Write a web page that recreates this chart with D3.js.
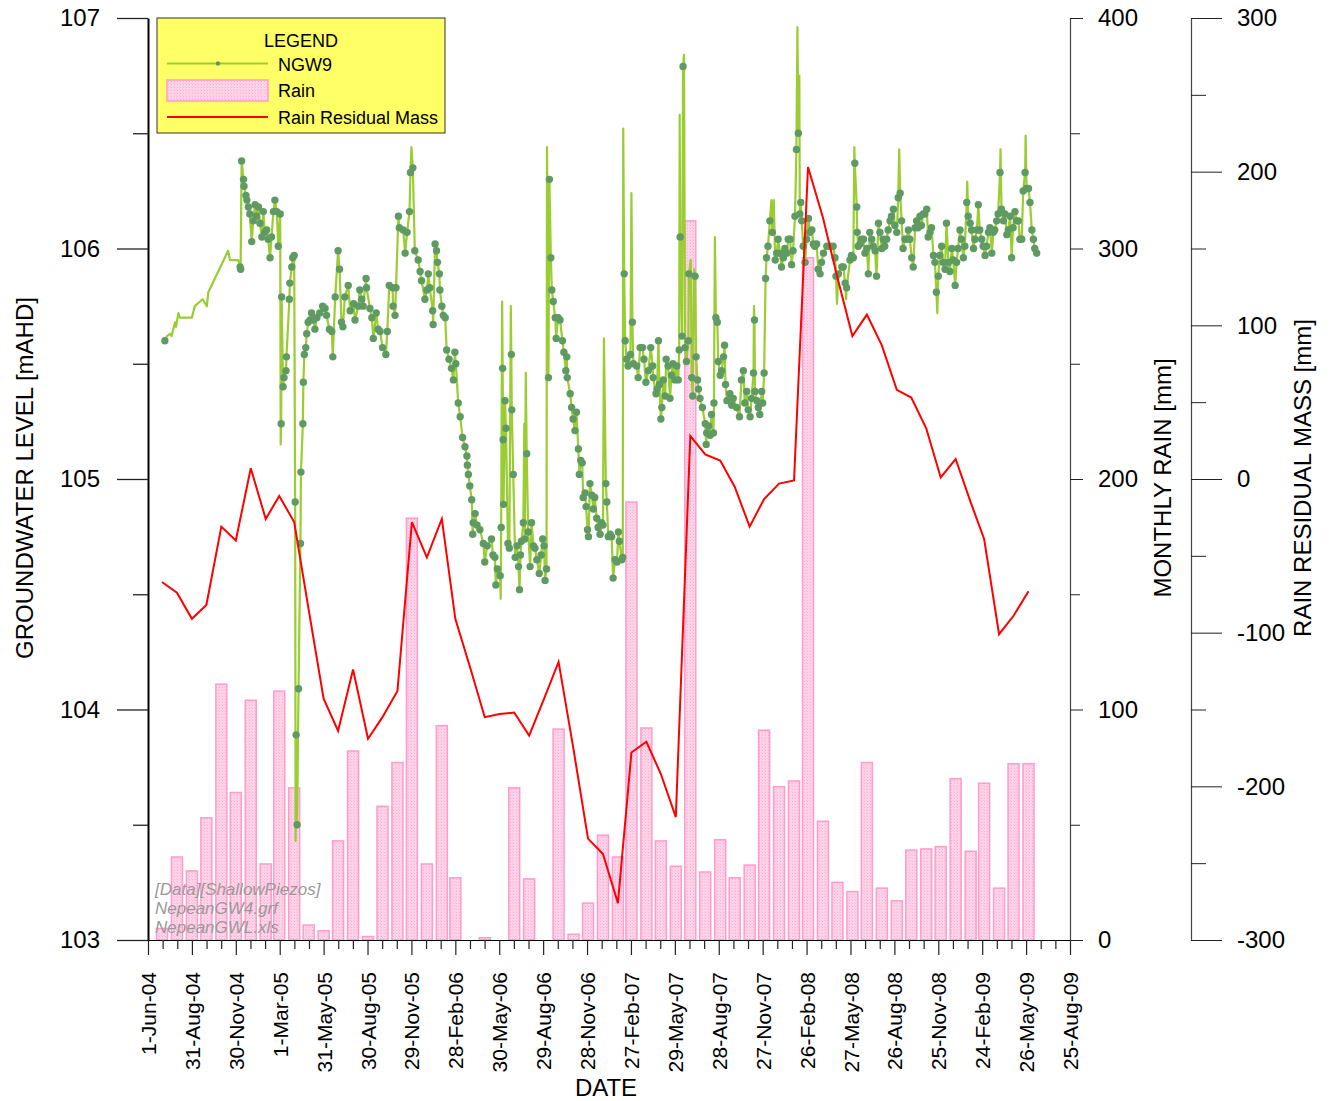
<!DOCTYPE html>
<html>
<head>
<meta charset="utf-8">
<script src="https://cdn.jsdelivr.net/npm/d3@7"></script>
<style>
  body { margin: 0; background: #fff; }
  svg { display: block; font-family: Arial, "Liberation Sans", sans-serif; }
</style>
</head>
<body>
<svg id="chart" width="1331" height="1101"></svg>
<script>
// ---- data ----
var xTickLabels = ["1-Jun-04", "31-Aug-04", "30-Nov-04", "1-Mar-05", "31-May-05", "30-Aug-05",
  "29-Nov-05", "28-Feb-06", "30-May-06", "29-Aug-06", "28-Nov-06", "27-Feb-07", "29-May-07",
  "28-Aug-07", "27-Nov-07", "26-Feb-08", "27-May-08", "26-Aug-08", "25-Nov-08", "24-Feb-09",
  "26-May-09", "25-Aug-09"];
var levelTicks = [103, 104, 105, 106, 107];
var rainTicks = [0, 100, 200, 300, 400];
var residualTicks = [-300, -200, -100, 0, 100, 200, 300];

// monthly rain [mm], Jun-2004 .. May-2009
var rainMm = [5, 36, 30, 53, 111, 64, 104, 33, 108, 66, 6.5, 4,
  43, 82, 1.5, 58, 77, 183, 33, 93, 27, 0, 1, 0,
  66, 26.5, 0, 91.5, 2.5, 16, 45.5, 36, 190, 92, 43, 32,
  312, 29.5, 43.5, 27, 32.5, 91, 66.5, 69, 296, 51.5, 25, 21,
  77, 22.5, 17, 39, 39.5, 40.5, 70, 38.5, 68, 22.5, 76.5, 76.5];

// rain residual mass [mm], same months
var residualMm = [-67, -74, -91, -82, -31, -40, 7, -26, -11, -28, -85, -143,
  -164, -124, -169, -155, -138, -28, -51, -26, -91, -123, -155, -153,
  -152, -167, -143, -119, -176, -234, -244, -276, -178, -171, -192, -220,
  28, 16, 12, -5, -31, -13, -3, -1, 203, 170, 131, 93,
  107, 87, 58, 53, 33, 1, 13, -15, -39, -101, -89, -73];

// NGW9 readings shown with a marker: [days since 1-Jun-04, level mAHD]
var ngw9 = [[35,105.60],[191,105.92],[192,105.91],[194,106.38],[198,106.30],[199,106.27],[203,106.23],[205,106.21],
  [208,106.18],[211,106.15],[215,106.03],[218,106.12],[222,106.19],[225,106.14],[229,106.18],[232,106.11],[236,106.05],
  [239,106.16],[242,106.07],[246,106.08],[249,106.04],[253,105.96],[256,106.05],[260,106.16],[263,106.21],[267,106.16],
  [270,106.01],[274,106.15],[276,105.24],[277,105.79],[280,105.40],[282,105.44],[286,105.47],[287,105.53],[293,105.78],
  [294,105.85],[298,105.92],[300,105.96],[303,105.97],[305,104.90],[307,103.89],[309,103.50],[312,104.09],[316,104.72],
  [317,105.03],[321,105.24],[322,105.42],[324,105.54],[327,105.57],[329,105.63],[332,105.68],[336,105.69],[339,105.72],
  [343,105.69],[346,105.65],[350,105.70],[356,105.72],[362,105.75],[367,105.74],[370,105.71],[376,105.65],[381,105.64],
  [383,105.53],[388,105.79],[394,105.99],[397,105.91],[401,105.68],[404,105.66],[408,105.79],[415,105.84],[419,105.73],
  [426,105.76],[429,105.69],[436,105.75],[439,105.82],[443,105.78],[446,105.75],[452,105.87],[453,105.83],[460,105.74],
  [464,105.70],[467,105.61],[473,105.72],[477,105.65],[481,105.64],[486,105.57],[493,105.54],[496,105.64],[500,105.84],
  [507,105.83],[508,105.75],[512,105.71],[514,105.83],[519,106.14],[521,106.09],[529,106.08],[533,105.98],[537,106.07],
  [542,106.16],[544,106.33],[549,106.35],[553,105.99],[560,105.95],[564,105.90],[567,105.86],[574,105.78],[578,105.82],
  [581,105.89],[584,105.83],[590,105.73],[591,105.67],[595,106.02],[598,105.99],[600,105.94],[604,105.89],[605,105.82],
  [609,105.75],[612,105.71],[616,105.70],[619,105.56],[624,105.52],[629,105.48],[633,105.43],[636,105.55],[638,105.50],
  [643,105.33],[647,105.27],[652,105.18],[657,105.14],[661,105.10],[662,105.06],[664,105.02],[667,104.97],[671,104.91],
  [673,104.76],[674,104.81],[678,104.85],[682,104.80],[688,104.78],[695,104.72],[698,104.64],[703,104.71],[712,104.74],
  [715,104.67],[719,104.66],[721,104.54],[724,104.61],[730,104.58],[732,104.79],[735,105.48],[736,105.17],[737,104.89],
  [740,105.34],[742,105.22],[746,104.72],[749,104.70],[753,105.54],[754,105.30],[757,105.02],[761,104.66],[765,104.71],
  [768,104.62],[770,104.52],[772,104.67],[774,104.73],[778,104.81],[781,104.74],[785,105.11],[788,104.77],[792,104.62],
  [795,104.81],[799,104.71],[802,104.70],[806,104.65],[811,104.59],[815,104.67],[818,104.74],[821,104.71],[823,104.56],
  [826,104.61],[830,105.44],[832,106.30],[835,105.96],[837,105.82],[840,105.77],[844,105.70],[846,105.61],[850,105.70],
  [854,105.69],[859,105.60],[862,105.55],[866,105.47],[868,105.53],[869,105.44],[875,105.37],[878,105.31],[881,105.26],
  [885,105.21],[888,105.29],[892,105.13],[894,105.02],[897,105.08],[900,105.07],[902,104.92],[906,104.94],[908,104.88],
  [911,104.78],[913,104.75],[916,104.98],[920,104.93],[923,104.87],[926,104.92],[930,104.83],[933,104.79],[937,104.76],
  [940,104.81],[943,104.80],[949,104.98],[951,104.90],[954,104.75],[958,104.76],[961,104.75],[964,104.57],[968,104.65],
  [972,104.64],[975,104.77],[977,104.73],[982,104.65],[984,104.66],[987,105.89],[989,105.60],[992,105.52],[995,105.49],
  [1000,105.54],[1004,105.68],[1006,105.50],[1013,105.49],[1016,105.44],[1020,105.57],[1025,105.57],[1028,105.52],
  [1032,105.42],[1037,105.47],[1042,105.57],[1046,105.49],[1047,105.44],[1053,105.37],[1055,105.39],[1058,105.60],
  [1060,105.41],[1063,105.26],[1065,105.31],[1068,105.43],[1072,105.36],[1074,105.52],[1078,105.49],[1082,105.35],
  [1085,105.45],[1088,105.50],[1092,105.43],[1096,105.49],[1099,105.43],[1101,105.56],[1103,106.05],[1107,105.62],
  [1109,106.79],[1113,105.57],[1116,105.51],[1120,105.60],[1121,105.89],[1127,105.44],[1129,105.36],[1134,105.88],
  [1136,105.53],[1139,105.43],[1141,105.39],[1144,105.35],[1149,105.31],[1155,105.24],[1157,105.15],[1158,105.20],
  [1162,105.23],[1165,105.19],[1168,105.28],[1172,105.20],[1173,105.33],[1177,105.70],[1180,105.68],[1182,105.51],
  [1186,105.45],[1189,105.47],[1193,105.53],[1195,105.58],[1197,105.41],[1200,105.34],[1206,105.37],[1210,105.32],
  [1213,105.35],[1220,105.31],[1226,105.27],[1230,105.43],[1234,105.47],[1237,105.33],[1241,105.38],[1244,105.30],
  [1248,105.27],[1251,105.35],[1255,105.46],[1257,105.69],[1258,105.38],[1262,105.34],[1265,105.31],[1268,105.28],
  [1272,105.38],[1274,105.33],[1277,105.46],[1280,105.87],[1282,105.96],[1285,106.01],[1289,106.12],[1294,106.07],
  [1300,105.95],[1303,105.98],[1306,106.04],[1310,105.98],[1313,105.92],[1317,105.96],[1320,106.00],[1324,105.98],
  [1327,106.04],[1331,106.04],[1334,105.93],[1337,105.99],[1341,106.14],[1344,106.43],[1348,106.50],[1351,106.15],
  [1353,106.20],[1355,106.12],[1358,106.01],[1362,105.94],[1365,106.04],[1369,106.13],[1372,106.07],[1376,106.08],
  [1379,106.02],[1382,106.01],[1386,106.02],[1389,105.91],[1393,105.89],[1396,105.94],[1400,105.98],[1407,106.01],
  [1414,106.01],[1420,106.01],[1424,105.96],[1426,105.88],[1431,105.89],[1438,105.92],[1441,105.92],[1445,105.85],
  [1448,105.83],[1455,105.95],[1458,105.97],[1462,105.96],[1465,106.37],[1469,106.18],[1470,106.07],[1472,106.01],
  [1476,106.02],[1479,106.04],[1483,106.04],[1486,105.98],[1490,106.00],[1493,105.89],[1496,106.07],[1500,106.04],
  [1503,106.01],[1507,105.99],[1510,105.88],[1514,106.11],[1517,106.07],[1521,106.00],[1524,106.04],[1527,106.01],
  [1531,106.04],[1534,106.08],[1538,106.12],[1541,106.14],[1545,106.17],[1548,106.10],[1552,106.07],[1555,106.22],
  [1559,106.24],[1562,106.12],[1565,106.00],[1569,106.04],[1572,106.04],[1576,106.08],[1579,106.04],[1583,105.96],
  [1586,105.92],[1590,106.09],[1593,106.12],[1596,106.09],[1600,106.14],[1603,106.10],[1607,106.15],[1610,106.15],
  [1614,106.17],[1617,106.05],[1621,106.07],[1624,106.09],[1628,105.97],[1631,105.94],[1634,105.81],[1638,105.88],
  [1641,105.97],[1645,106.01],[1648,105.94],[1652,105.91],[1655,106.11],[1659,105.94],[1662,105.90],[1666,106.00],
  [1669,105.95],[1673,105.84],[1676,105.94],[1679,106.00],[1683,106.08],[1686,106.04],[1690,105.96],[1693,106.01],
  [1697,106.20],[1700,106.14],[1704,106.11],[1707,106.08],[1711,106.00],[1714,106.04],[1718,106.08],[1721,106.19],
  [1724,106.08],[1728,106.04],[1731,106.01],[1735,105.97],[1738,106.01],[1742,106.07],[1745,106.09],[1749,105.98],
  [1752,106.07],[1755,106.08],[1759,106.12],[1762,106.15],[1766,106.33],[1769,106.17],[1773,106.12],[1776,106.15],
  [1780,106.06],[1783,106.08],[1787,106.14],[1790,105.96],[1793,106.09],[1797,106.16],[1800,106.12],[1804,106.12],
  [1807,106.04],[1811,106.04],[1814,106.25],[1818,106.33],[1821,106.26],[1825,106.26],[1828,106.20],[1832,106.08],
  [1835,106.04],[1838,106.00],[1842,105.98]];

// NGW9 readings that only show in the line (early sparse record and logger spikes)
var ngw9LineOnly = [[39,105.62],[46,105.63],[49,105.62],[56,105.68],[58,105.66],[63,105.72],[66,105.70],[91,105.70],
  [97,105.75],[113,105.78],[122,105.75],[125,105.81],[166,105.99],[170,105.95],[187,105.95],[275,105.15],[306,103.43],
  [546,106.44],[731,104.48],[734,105.77],[752,105.75],[780,105.24],[783,105.46],[827,106.44],[945,105.61],[985,106.52],
  [1002,106.24],[1102,106.58],[1111,106.84],[1125,105.95],[1132,105.91],[1175,106.05],[1256,105.75],[1292,106.21],
  [1297,106.21],[1346,106.96],[1350,106.75],[1428,105.76],[1447,105.78],[1464,106.44],[1557,106.43],[1636,105.72],
  [1698,106.29],[1767,106.43],[1819,106.49]];

// ---- setup ----
var svg = d3.select("#chart");
var font = "Arial, 'Liberation Sans', sans-serif";
var parseTick = d3.utcParse("%d-%b-%y");
var start = new Date(Date.UTC(2004, 5, 1));
var xTicks = xTickLabels.map(parseTick);

var x = d3.scaleUtc().domain([xTicks[0], xTicks[xTicks.length - 1]]).range([148, 1070]);
var yLevel = d3.scaleLinear().domain([103, 107]).range([940, 18]);
var yRain = d3.scaleLinear().domain([0, 400]).range([940, 18]);
var yRes = d3.scaleLinear().domain([-300, 300]).range([940, 18]);

var dayDate = function (d) { return d3.utcDay.offset(start, d); };
var plain = function (d) { return String(d); };

// each month is plotted at its last day
var months = d3.utcMonth.range(start, new Date(Date.UTC(2009, 5, 1)));
var monthEnd = months.map(function (m) { return d3.utcDay.offset(d3.utcMonth.offset(m, 1), -1); });

var defs = svg.append("defs");
var pat = defs.append("pattern").attr("id", "rainfill")
  .attr("width", 3).attr("height", 3).attr("patternUnits", "userSpaceOnUse");
pat.append("rect").attr("width", 3).attr("height", 3).attr("fill", "#ffd3e8");
pat.append("rect").attr("width", 1).attr("height", 1).attr("fill", "#ffaed3");
pat.append("rect").attr("x", 2).attr("y", 2).attr("width", 1).attr("height", 1).attr("fill", "#ffc0dd");

// ---- rain bars ----
var barW = 11;
var rainData = rainMm.map(function (v, i) { return { date: monthEnd[i], mm: v }; })
  .filter(function (d) { return d.mm > 0; });
svg.append("g").selectAll("rect")
  .data(rainData)
  .enter().append("rect")
  .attr("x", function (d) { return x(d.date) - barW / 2; })
  .attr("y", function (d) { return yRain(d.mm); })
  .attr("width", barW)
  .attr("height", function (d) { return yRain(0) - yRain(d.mm); })
  .attr("fill", "url(#rainfill)")
  .attr("stroke", "#ff9ccb")
  .attr("stroke-width", 1.5);

// ---- NGW9 ----
var ngwAll = ngw9.concat(ngw9LineOnly).sort(function (a, b) { return a[0] - b[0]; });
var ngwLine = d3.line()
  .x(function (d) { return x(dayDate(d[0])); })
  .y(function (d) { return yLevel(d[1]); });

svg.append("path")
  .datum(ngwAll)
  .attr("d", ngwLine)
  .attr("fill", "none")
  .attr("stroke", "#9acd32")
  .attr("stroke-width", 2.2)
  .attr("stroke-linejoin", "round");

svg.append("g").selectAll("circle")
  .data(ngw9)
  .enter().append("circle")
  .attr("cx", function (d) { return x(dayDate(d[0])); })
  .attr("cy", function (d) { return yLevel(d[1]); })
  .attr("r", 3.7)
  .attr("fill", "#5f9a62");

// ---- residual mass ----
var resLine = d3.line()
  .x(function (d, i) { return x(monthEnd[i]); })
  .y(function (d) { return yRes(d); });

svg.append("path")
  .datum(residualMm)
  .attr("d", resLine)
  .attr("fill", "none")
  .attr("stroke", "#ff0000")
  .attr("stroke-width", 2);

// ---- axes ----
function fontAxis(g, size) {
  g.attr("font-family", font).attr("font-size", size);
  g.selectAll("text").attr("fill", "#000");
}

// left: groundwater level
svg.append("g").attr("transform", "translate(148,0)")
  .call(d3.axisLeft(yLevel).tickValues(levelTicks).tickSize(31).tickSizeOuter(0).tickPadding(17).tickFormat(plain))
  .call(function (g) { fontAxis(g, 24); })
  .call(function (g) { g.select(".domain").attr("stroke", "#000").attr("stroke-width", 2); })
  .call(function (g) { g.selectAll(".tick line").attr("stroke", "#222").attr("stroke-width", 1.3); });
svg.append("g").attr("transform", "translate(148,0)")
  .call(d3.axisLeft(yLevel).tickValues([103.5, 104.5, 105.5, 106.5]).tickSize(15).tickFormat(""))
  .call(function (g) { g.select(".domain").remove(); g.selectAll(".tick line").attr("stroke", "#222").attr("stroke-width", 1.3); });

// right: monthly rain
svg.append("g").attr("transform", "translate(1070,0)")
  .call(d3.axisRight(yRain).tickValues(rainTicks).tickSize(13).tickSizeOuter(0).tickPadding(15).tickFormat(plain))
  .call(function (g) { fontAxis(g, 24); })
  .call(function (g) { g.select(".domain").attr("stroke", "#444").attr("stroke-width", 1.2); })
  .call(function (g) { g.selectAll(".tick line").attr("stroke", "#222"); });
svg.append("g").attr("transform", "translate(1070,0)")
  .call(d3.axisRight(yRain).tickValues([50, 150, 250, 350]).tickSize(10).tickFormat(""))
  .call(function (g) { g.select(".domain").remove(); g.selectAll(".tick line").attr("stroke", "#222"); });

// far right: residual mass
svg.append("g").attr("transform", "translate(1191,0)")
  .call(d3.axisRight(yRes).tickValues(residualTicks).tickSize(31).tickSizeOuter(0).tickPadding(15).tickFormat(plain))
  .call(function (g) { fontAxis(g, 24); })
  .call(function (g) { g.select(".domain").attr("stroke", "#444").attr("stroke-width", 1.2); })
  .call(function (g) { g.selectAll(".tick line").attr("stroke", "#222"); });
svg.append("g").attr("transform", "translate(1191,0)")
  .call(d3.axisRight(yRes).tickValues([-250, -150, -50, 50, 150, 250]).tickSize(15).tickFormat(""))
  .call(function (g) { g.select(".domain").remove(); g.selectAll(".tick line").attr("stroke", "#222"); });

// bottom: date
var minorX = [];
xTicks.slice(0, -1).forEach(function (t) {
  minorX.push(d3.utcHour.offset(t, 728), d3.utcHour.offset(t, 1456));
});
svg.append("g").attr("transform", "translate(0,940)")
  .call(d3.axisBottom(x).tickValues(xTicks).tickSize(15).tickSizeOuter(0)
    .tickFormat(function (d, i) { return xTickLabels[i]; }))
  .call(function (g) { fontAxis(g, 21); })
  .call(function (g) { g.select(".domain").attr("stroke", "#000").attr("stroke-width", 1.2); })
  .call(function (g) { g.selectAll(".tick line").attr("stroke", "#222").attr("stroke-width", 1.2); })
  .call(function (g) {
    g.selectAll(".tick text")
      .attr("transform", "rotate(-90)")
      .attr("text-anchor", "end")
      .attr("x", -32).attr("y", 0).attr("dy", "0.36em");
  });
svg.append("g").attr("transform", "translate(0,940)")
  .call(d3.axisBottom(x).tickValues(minorX).tickSize(9).tickFormat(""))
  .call(function (g) { g.select(".domain").remove(); g.selectAll(".tick line").attr("stroke", "#222").attr("stroke-width", 1.2); });

// axis titles
svg.append("text").attr("transform", "translate(33,478) rotate(-90)")
  .attr("text-anchor", "middle").attr("font-size", 24).attr("font-family", font)
  .text("GROUNDWATER LEVEL [mAHD]");
svg.append("text").attr("transform", "translate(1171,478) rotate(-90)")
  .attr("text-anchor", "middle").attr("font-size", 24).attr("font-family", font)
  .text("MONTHLY RAIN [mm]");
svg.append("text").attr("transform", "translate(1311,478) rotate(-90)")
  .attr("text-anchor", "middle").attr("font-size", 24).attr("font-family", font)
  .text("RAIN RESIDUAL MASS [mm]");
svg.append("text").attr("x", 606).attr("y", 1096)
  .attr("text-anchor", "middle").attr("font-size", 24).attr("font-family", font)
  .text("DATE");

// file note
var note = ["[Data][ShallowPiezos]", "NepeanGW4.grf", "NepeanGWL.xls"];
svg.append("g").selectAll("text").data(note).enter().append("text")
  .attr("x", 155).attr("y", function (d, i) { return 895 + i * 19; })
  .attr("font-size", 17).attr("font-style", "italic").attr("font-family", font)
  .attr("fill", "#9a9a9a")
  .text(function (d) { return d; });

// ---- legend ----
var lg = svg.append("g");
lg.append("rect").attr("x", 157).attr("y", 18).attr("width", 288).attr("height", 115)
  .attr("fill", "#ffff66").attr("stroke", "#333").attr("stroke-width", 1);
lg.append("text").attr("x", 301).attr("y", 46.5).attr("text-anchor", "middle")
  .attr("font-size", 18).attr("font-family", font).text("LEGEND");
lg.append("line").attr("x1", 167).attr("x2", 268).attr("y1", 63.5).attr("y2", 63.5)
  .attr("stroke", "#9acd32").attr("stroke-width", 1.8);
lg.append("circle").attr("cx", 218).attr("cy", 63.5).attr("r", 2.2).attr("fill", "#5f9a62");
lg.append("rect").attr("x", 167).attr("y", 80).attr("width", 101).attr("height", 21)
  .attr("fill", "url(#rainfill)").attr("stroke", "#ff9ccb").attr("stroke-width", 1.5);
lg.append("line").attr("x1", 167).attr("x2", 268).attr("y1", 117).attr("y2", 117)
  .attr("stroke", "#ff0000").attr("stroke-width", 2);
var legendNames = ["NGW9", "Rain", "Rain Residual Mass"];
lg.selectAll("text.item").data(legendNames).enter().append("text").attr("class", "item")
  .attr("x", 278).attr("y", function (d, i) { return 70.5 + i * 26.5; })
  .attr("font-size", 18).attr("font-family", font)
  .text(function (d) { return d; });
</script>
</body>
</html>
